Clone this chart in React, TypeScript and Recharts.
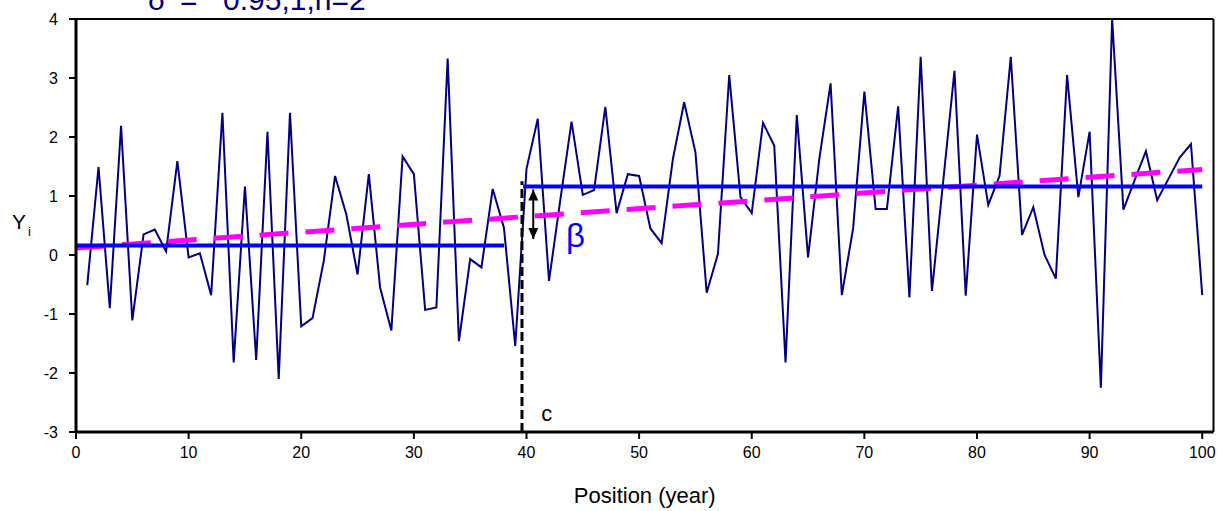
import React from 'react';
import {
  ComposedChart,
  Line,
  XAxis,
  YAxis,
  ReferenceLine,
  ReferenceDot,
  Label,
} from 'recharts';

// positions (years) and observed values Y_i
const positions = [
  1, 2, 3, 4, 5, 6, 7, 8, 9, 10, 11, 12, 13, 14, 15, 16, 17, 18, 19, 20,
  21, 22, 23, 24, 25, 26, 27, 28, 29, 30, 31, 32, 33, 34, 35, 36, 37, 38, 39, 40,
  41, 42, 43, 44, 45, 46, 47, 48, 49, 50, 51, 52, 53, 54, 55, 56, 57, 58, 59, 60,
  61, 62, 63, 64, 65, 66, 67, 68, 69, 70, 71, 72, 73, 74, 75, 76, 77, 78, 79, 80,
  81, 82, 83, 84, 85, 86, 87, 88, 89, 90, 91, 92, 93, 94, 95, 96, 97, 98, 99, 100,
];
const observed = [
  -0.51, 1.49, -0.9, 2.19, -1.11, 0.35, 0.43, 0.06, 1.59, -0.04,
  0.03, -0.68, 2.41, -1.82, 1.16, -1.78, 2.09, -2.1, 2.41, -1.21,
  -1.07, -0.1, 1.34, 0.69, -0.33, 1.37, -0.55, -1.28, 1.67, 1.37,
  -0.93, -0.89, 3.33, -1.46, -0.07, -0.21, 1.12, 0.46, -1.54, 1.46,
  2.31, -0.44, 0.93, 2.26, 1.02, 1.1, 2.51, 0.71, 1.37, 1.34,
  0.45, 0.2, 1.63, 2.59, 1.74, -0.64, 0.02, 3.05, 0.98, 0.71,
  2.24, 1.85, -1.82, 2.37, -0.04, 1.63, 2.91, -0.68, 0.45, 2.77,
  0.78, 0.78, 2.52, -0.72, 3.36, -0.61, 1.25, 3.12, -0.69, 2.04,
  0.85, 1.34, 3.36, 0.34, 0.81, 0.0, -0.4, 3.05, 0.98, 2.09,
  -2.25, 4.0, 0.77, 1.27, 1.76, 0.93, 1.29, 1.65, 1.88, -0.68,
];

const xTicks = [0, 10, 20, 30, 40, 50, 60, 70, 80, 90, 100];
const yTicks = [-3, -2, -1, 0, 1, 2, 3, 4];

// segment means before / after the change point
const meanBeforeX = [0, 38];
const meanBefore = 0.16;
const meanAfterX = [39.7, 100];
const meanAfter = 1.16;

// fitted linear trend (end points)
const trendX = [0, 100];
const trendY = [0.12, 1.45];

// change point marker and jump arrow
const changePointX = 39.6;
const changePointTop = 1.25;
const jumpArrowX = 40.6;
const jumpArrowY = [1.11, 0.27];

const FONT = '"Liberation Sans", Arial, sans-serif';

const seriesData = positions.map((x, i) => ({ x, y: observed[i] }));
const beforeData = meanBeforeX.map((x) => ({ x, y: meanBefore }));
const afterData = meanAfterX.map((x) => ({ x, y: meanAfter }));
const trendData = trendX.map((x, i) => ({ x, y: trendY[i] }));

const upHead = (p: any) => (
  <polygon
    points={`${p.cx},${p.cy} ${p.cx - 5},${p.cy + 11} ${p.cx + 5},${p.cy + 11}`}
    fill="#000"
  />
);
const downHead = (p: any) => (
  <polygon
    points={`${p.cx},${p.cy} ${p.cx - 5},${p.cy - 11} ${p.cx + 5},${p.cy - 11}`}
    fill="#000"
  />
);

export default function App() {
  return (
    <div style={{ position: 'absolute', left: 0, top: 0, background: '#fff' }}>
      <ComposedChart
        width={1219}
        height={511}
        margin={{ top: 19, right: 5.5, bottom: 0, left: 0 }}
        style={{ fontFamily: FONT }}
      >
        {/* title is cut off at the top edge, as in the source figure */}
        <text y={10} fill="#000080" fontSize={30} fontFamily={FONT}>
          <tspan x={148}>δ</tspan>
          <tspan x={180}>=</tspan>
          <tspan x={223}>0.95,1,n=2</tspan>
        </text>
        <XAxis
          type="number"
          dataKey="x"
          domain={[0, 101]}
          ticks={xTicks}
          interval={0}
          height={79}
          tickSize={7}
          tickMargin={8}
          axisLine={{ stroke: '#000', strokeWidth: 3 }}
          tickLine={{ stroke: '#000', strokeWidth: 2 }}
          tick={{ fill: '#000', fontSize: 16, fontFamily: FONT }}
        >
          <Label
            value="Position (year)"
            position="insideBottom"
            offset={8}
            fill="#000"
            fontSize={22}
            fontFamily={FONT}
          />
        </XAxis>
        <YAxis
          type="number"
          domain={[-3, 4]}
          ticks={yTicks}
          interval={0}
          width={76}
          tickSize={7}
          tickMargin={11}
          axisLine={{ stroke: '#000', strokeWidth: 3 }}
          tickLine={{ stroke: '#000', strokeWidth: 2 }}
          tick={{ fill: '#000', fontSize: 16, fontFamily: FONT }}
          label={{
            content: () => (
              <text x={12} y={229} fill="#000" fontSize={21} fontFamily={FONT}>
                Y
                <tspan dx={2} dy={7} fontSize={13}>
                  i
                </tspan>
              </text>
            ),
          }}
        />
        <ReferenceLine y={4} stroke="#000" strokeWidth={2} />
        <ReferenceLine x={101} stroke="#000" strokeWidth={2} />

        <Line
          data={seriesData}
          dataKey="y"
          stroke="#000080"
          strokeWidth={2}
          dot={false}
          activeDot={false}
          isAnimationActive={false}
        />
        <Line
          data={trendData}
          dataKey="y"
          stroke="#ff00ff"
          strokeWidth={5}
          strokeDasharray="29 17"
          dot={false}
          activeDot={false}
          isAnimationActive={false}
        />
        <Line
          data={beforeData}
          dataKey="y"
          stroke="#0000ff"
          strokeWidth={4}
          dot={false}
          activeDot={false}
          isAnimationActive={false}
        />
        <Line
          data={afterData}
          dataKey="y"
          stroke="#0000ff"
          strokeWidth={4}
          dot={false}
          activeDot={false}
          isAnimationActive={false}
        />

        <ReferenceLine
          segment={[
            { x: changePointX, y: -3 },
            { x: changePointX, y: changePointTop },
          ]}
          stroke="#000"
          strokeWidth={3}
          strokeDasharray="9 4"
        />
        <ReferenceLine
          segment={[
            { x: jumpArrowX, y: jumpArrowY[0] },
            { x: jumpArrowX, y: jumpArrowY[1] },
          ]}
          stroke="#000"
          strokeWidth={2}
        />
        <ReferenceDot x={jumpArrowX} y={jumpArrowY[0]} shape={upHead} />
        <ReferenceDot x={jumpArrowX} y={jumpArrowY[1]} shape={downHead} />
        <ReferenceDot
          x={43.5}
          y={0.13}
          shape={(p: any) => (
            <text x={p.cx} y={p.cy} fill="#0000ff" fontSize={33} fontFamily={FONT}>
              β
            </text>
          )}
        />
        <ReferenceDot
          x={41.3}
          y={-2.81}
          shape={(p: any) => (
            <text x={p.cx} y={p.cy} fill="#000" fontSize={22} fontFamily={FONT}>
              c
            </text>
          )}
        />
      </ComposedChart>
    </div>
  );
}
